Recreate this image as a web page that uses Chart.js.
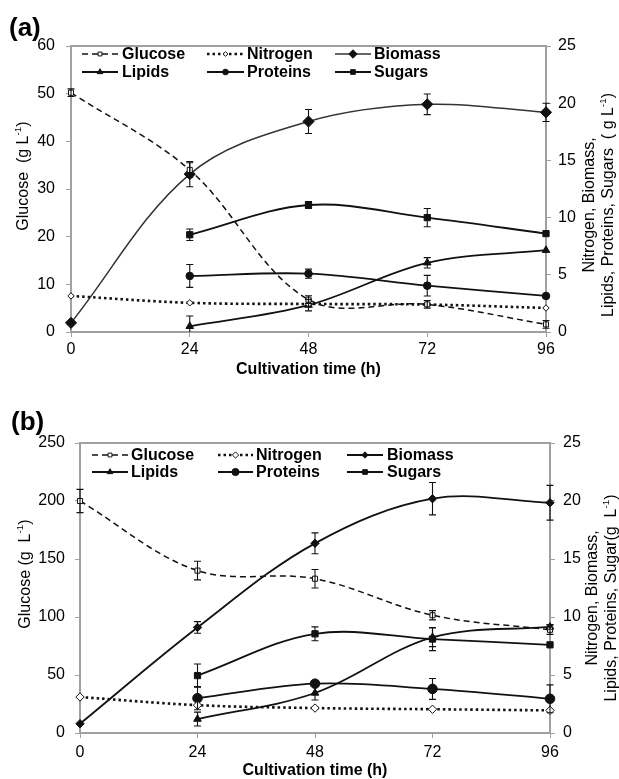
<!DOCTYPE html>
<html><head><meta charset="utf-8">
<script src="https://cdn.jsdelivr.net/npm/chart.js@4.4.1/dist/chart.umd.min.js"></script>
<style>
html,body{margin:0;padding:0;background:#fff;width:619px;height:779px;overflow:hidden}
canvas{position:absolute;left:0}
#ca{top:0}
#cb{top:390px}
</style></head><body>
<canvas id="ca" width="619" height="390"></canvas>
<canvas id="cb" width="619" height="389"></canvas>
<script>
// ---------- data ----------
const timeLabels = ['0', '24', '48', '72', '96'];
const seriesNames = ['Glucose', 'Nitrogen', 'Biomass', 'Lipids', 'Proteins', 'Sugars'];

// Panel (a)
const glucoseA   = [50.2, 34.0, 6.8, 5.8, 1.6];
const glucoseAErr = [0.8, 1.5, 0.8, 0.8, 0.8];
const nitrogenA  = [3.15, 2.55, 2.45, 2.4, 2.1];
const nitrogenAErr = [0, 0, 0, 0, 0];
const biomassA   = [0.8, 13.8, 18.4, 19.9, 19.2];
const biomassAErr = [0, 1.1, 1.05, 0.9, 0.8];
const lipidsA    = [null, 0.5, 2.35, 6.05, 7.15];
const lipidsAErr = [0, 0.9, 0.5, 0.45, 0];
const proteinsA  = [null, 4.9, 5.1, 4.05, 3.15];
const proteinsAErr = [0, 1.0, 0.4, 0.9, 0];
const sugarsA    = [null, 8.5, 11.1, 10.0, 8.6];
const sugarsAErr = [0, 0.5, 0.3, 0.8, 0];

// Panel (b)
const glucoseB   = [200, 140, 133, 101.5, 89];
const glucoseBErr = [10, 8, 8, 4, 4];
const nitrogenB  = [3.1, 2.4, 2.15, 2.05, 1.95];
const nitrogenBErr = [0, 0, 0, 0, 0];
const biomassB   = [0.8, 9.1, 16.35, 20.2, 19.85];
const biomassBErr = [0, 0.5, 0.9, 1.4, 1.5];
const lipidsB    = [null, 1.2, 3.45, 8.25, 9.15];
const lipidsBErr = [0, 0.6, 0.6, 0.8, 0.2];
const proteinsB  = [null, 3.0, 4.25, 3.8, 2.95];
const proteinsBErr = [0, 1.0, 0.2, 0.9, 1.2];
const sugarsB    = [null, 4.95, 8.55, 8.1, 7.6];
const sugarsBErr = [0, 1.0, 0.6, 1.0, 0];

const glucoseTicksA = [0, 60, 10];
const glucoseTicksB = [0, 250, 50];
const rightTicks = [0, 25, 5];

// ---------- styling ----------
const FONT = '"Liberation Sans", Arial, Helvetica, sans-serif';
const AXIS = '#a0a0a0';
const INK = '#111';

function styleFor(name, panel) {
  const big = panel === 'a';
  const s = {
    Glucose:  {pointStyle: 'rect', radius: 3.6, fill: '#fff', dash: [6, 4], width: 1.5, axis: 'yL'},
    Nitrogen: {pointStyle: 'rectRot', radius: big ? 3.2 : 4.2, fill: '#fff', dash: [2.5, 3], width: 2.6, axis: 'yR'},
    Biomass:  {pointStyle: 'rectRot', radius: big ? 5.6 : 4.2, fill: INK, dash: [], width: big ? 1.5 : 1.8, axis: 'yR'},
    Lipids:   {pointStyle: 'triangle', radius: 4.4, fill: INK, dash: [], width: 1.8, axis: 'yR'},
    Proteins: {pointStyle: 'circle', radius: big ? 3.8 : 4.8, fill: INK, dash: [], width: 1.8, axis: 'yR'},
    Sugars:   {pointStyle: 'rect', radius: 4.4, fill: INK, dash: [], width: 1.8, axis: 'yR'}
  };
  return s[name];
}

function buildDatasets(values, errors, panel) {
  return seriesNames.map((name, i) => {
    const st = styleFor(name, panel);
    return {
      label: name,
      data: values[i],
      errors: errors[i],
      yAxisID: st.axis,
      borderColor: panel === 'a' && name === 'Biomass' ? '#333' : INK,
      borderWidth: st.width,
      borderDash: st.dash,
      borderCapStyle: 'butt',
      tension: 0.35,
      pointStyle: st.pointStyle,
      pointRadius: st.radius,
      pointBackgroundColor: st.fill,
      pointBorderColor: INK,
      pointBorderWidth: 1,
      pointHoverRadius: st.radius,
      spanGaps: false,
      clip: false,
      fill: false
    };
  });
}

// rich text (with superscript) centred at x,y
function drawRich(ctx, parts, x, y, rot, size, bold) {
  const f = (s) => (bold ? 'bold ' : '') + s + 'px ' + FONT;
  ctx.save();
  ctx.translate(x, y);
  ctx.rotate(rot);
  let w = 0;
  const widths = parts.map(p => { ctx.font = f(p.sup ? size * 0.62 : size); const m = ctx.measureText(p.t).width; w += m; return m; });
  let cx = -w / 2;
  ctx.textBaseline = 'middle';
  ctx.textAlign = 'left';
  ctx.fillStyle = '#000';
  parts.forEach((p, i) => {
    ctx.font = f(p.sup ? size * 0.62 : size);
    ctx.fillText(p.t, cx, p.sup ? -size * 0.38 : 0);
    cx += widths[i];
  });
  ctx.restore();
}

const decorPlugin = {
  id: 'decor',
  beforeDatasetsDraw(chart) {
    const {ctx, chartArea} = chart;
    ctx.save();
    ctx.strokeStyle = AXIS;
    ctx.lineWidth = 2;
    ctx.beginPath();
    ctx.moveTo(chartArea.left - 1, chartArea.top);
    ctx.lineTo(chartArea.right + 1, chartArea.top);
    ctx.stroke();
    ctx.restore();
  },
  afterDatasetsDraw(chart) {
    const {ctx} = chart;
    ctx.save();
    ctx.strokeStyle = INK;
    ctx.lineWidth = 1.1;
    chart.data.datasets.forEach((ds, i) => {
      const meta = chart.getDatasetMeta(i);
      const ys = chart.scales[ds.yAxisID];
      ds.data.forEach((v, j) => {
        const e = ds.errors[j];
        if (v === null || !e) return;
        const x = meta.data[j].x;
        const y1 = ys.getPixelForValue(v + e);
        const y2 = ys.getPixelForValue(Math.max(0, v - e));
        ctx.beginPath();
        ctx.moveTo(x, y1); ctx.lineTo(x, y2);
        ctx.moveTo(x - 3.5, y1); ctx.lineTo(x + 3.5, y1);
        if (v - e > 0) { ctx.moveTo(x - 3.5, y2); ctx.lineTo(x + 3.5, y2); }
        ctx.stroke();
      });
    });
    ctx.restore();
  },
  afterDraw(chart) {
    const o = chart.options.plugins.decor;
    const {ctx, chartArea} = chart;
    // panel letter
    ctx.save();
    ctx.fillStyle = '#000';
    ctx.font = 'bold 26px ' + FONT;
    ctx.textBaseline = 'middle';
    ctx.textAlign = 'left';
    ctx.fillText(o.letter, o.letterX, o.letterY);
    ctx.restore();
    // axis titles
    drawRich(ctx, [{t: o.leftTitle[0]}, {t: '-1', sup: true}, {t: ')'}], o.leftX, o.leftY, -Math.PI / 2, 16, false);
    drawRich(ctx, [{t: o.rightTitle[0]}], o.rightX[0], o.rightY, -Math.PI / 2, 16, false);
    drawRich(ctx, [{t: o.rightTitle[1]}, {t: '-1', sup: true}, {t: ')'}], o.rightX[1], o.rightY, -Math.PI / 2, 16, false);
    drawRich(ctx, [{t: 'Cultivation time (h)'}], (chartArea.left + chartArea.right) / 2, o.xTitleY, 0, 16, true);
    // legend
    const lg = o.legend;
    chart.data.datasets.forEach((ds, i) => {
      const col = lg.cols[i % 3];
      const y = lg.rows[Math.floor(i / 3)];
      ctx.save();
      ctx.strokeStyle = ds.borderColor;
      ctx.lineWidth = ds.borderWidth;
      ctx.setLineDash(ds.borderDash);
      ctx.beginPath();
      ctx.moveTo(col[0], y);
      ctx.lineTo(col[1], y);
      ctx.stroke();
      ctx.setLineDash([]);
      ctx.fillStyle = ds.pointBackgroundColor;
      ctx.strokeStyle = INK;
      ctx.lineWidth = 1;
      Chart.helpers.drawPoint(ctx, {pointStyle: ds.pointStyle, radius: ds.pointRadius * 0.75, rotation: 0, borderWidth: 1}, (col[0] + col[1]) / 2, y);
      ctx.fillStyle = '#000';
      ctx.font = 'bold 16px ' + FONT;
      ctx.textBaseline = 'middle';
      ctx.textAlign = 'left';
      ctx.fillText(ds.label, col[2], y + 1);
      ctx.restore();
    });
  }
};

function makeChart(canvas, datasets, cfg) {
  const tickFont = {family: FONT, size: 16};
  return new Chart(canvas, {
    type: 'line',
    data: {labels: timeLabels, datasets},
    options: {
      responsive: false,
      animation: false,
      devicePixelRatio: 1,
      events: [],
      layout: {padding: {top: cfg.top, left: 0, right: 0, bottom: 0}},
      plugins: {
        legend: {display: false},
        tooltip: {enabled: false},
        decor: cfg.decor
      },
      scales: {
        x: {
          type: 'category', offset: false,
          grid: {display: true, drawOnChartArea: false, drawTicks: true, tickLength: 5, color: AXIS, offset: false},
          border: {color: AXIS, width: 2},
          ticks: {font: tickFont, color: '#000', padding: cfg.xpad, maxRotation: 0, autoSkip: false},
          afterFit: s => { s.height = cfg.xh; }
        },
        yL: {
          position: 'left', min: cfg.lticks[0], max: cfg.lticks[1],
          ticks: {stepSize: cfg.lticks[2], font: tickFont, color: '#000', padding: cfg.lpad},
          grid: {drawOnChartArea: false, tickLength: 5, color: AXIS},
          border: {color: AXIS, width: 2},
          afterFit: s => { s.width = cfg.lw; }
        },
        yR: {
          position: 'right', min: rightTicks[0], max: rightTicks[1],
          ticks: {stepSize: rightTicks[2], font: tickFont, color: '#000', padding: cfg.rpad},
          grid: {drawOnChartArea: false, tickLength: 5, color: AXIS},
          border: {color: AXIS, width: 2},
          afterFit: s => { s.width = cfg.rw; }
        }
      }
    },
    plugins: [decorPlugin]
  });
}

makeChart(document.getElementById('ca'),
  buildDatasets([glucoseA, nitrogenA, biomassA, lipidsA, proteinsA, sugarsA],
                [glucoseAErr, nitrogenAErr, biomassAErr, lipidsAErr, proteinsAErr, sugarsAErr], 'a'),
  {top: 46, xh: 58, lw: 71, rw: 73, xpad: 3, lpad: 11, rpad: 7, lticks: glucoseTicksA,
   decor: {letter: '(a)', letterX: 9, letterY: 29,
     leftTitle: ['Glucose  (g L'], leftX: 24, leftY: 176,
     rightTitle: ['Nitrogen, Biomass,', 'Lipids, Proteins, Sugars  ( g L'], rightX: [590, 609], rightY: 205,
     xTitleY: 370,
     legend: {rows: [54, 72], cols: [[82, 118, 122], [207, 244, 247], [335, 371, 374]]}}});

makeChart(document.getElementById('cb'),
  buildDatasets([glucoseB, nitrogenB, biomassB, lipidsB, proteinsB, sugarsB],
                [glucoseBErr, nitrogenBErr, biomassBErr, lipidsBErr, proteinsBErr, sugarsBErr], 'b'),
  {top: 53, xh: 46, lw: 80, rw: 69, xpad: 5, lpad: 10, rpad: 8, lticks: glucoseTicksB,
   decor: {letter: '(b)', letterX: 11, letterY: 33,
     leftTitle: ['Glucose (g  L'], leftX: 26, leftY: 184,
     rightTitle: ['Nitrogen, Biomass,', 'Lipids, Proteins, Sugar(g  L'], rightX: [593, 612], rightY: 208,
     xTitleY: 381,
     legend: {rows: [65, 82], cols: [[92, 128, 131], [218, 253, 256], [347, 383, 387]]}}});
</script>
</body></html>
